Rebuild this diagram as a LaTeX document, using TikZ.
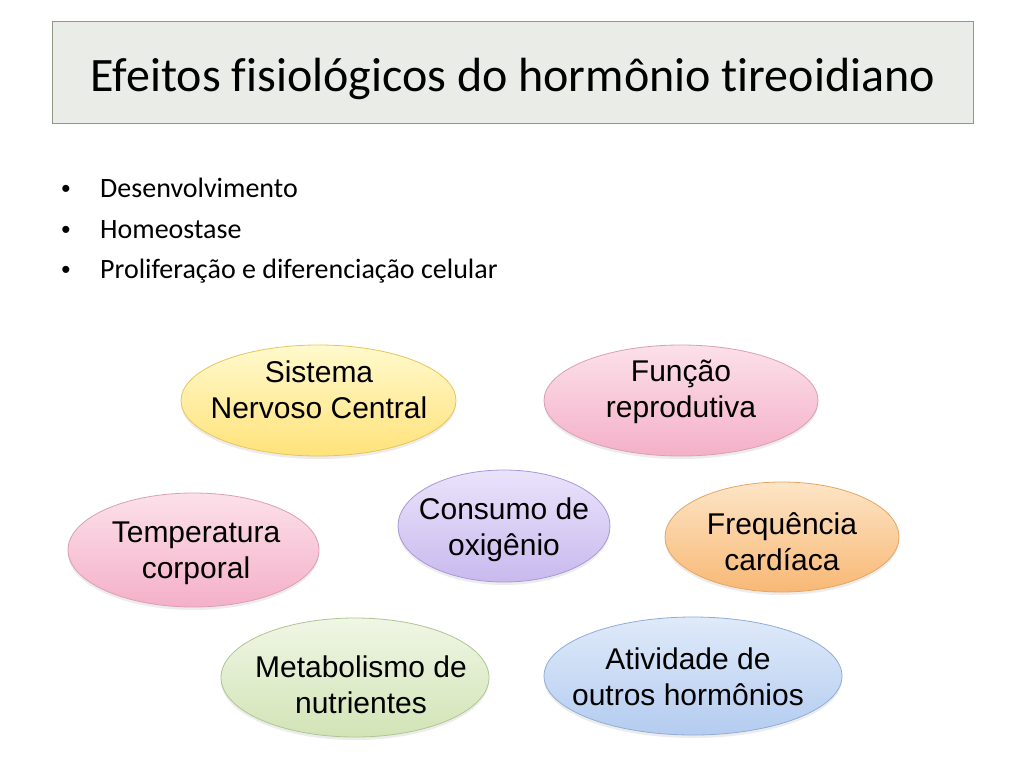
\documentclass[tikz,border=0pt]{standalone}
\usepackage{fontspec}
\setmainfont[Ligatures=NoCommon]{Carlito}
\newfontfamily\arialf{Liberation Sans}
\usetikzlibrary{shapes.geometric,shadows}
\definecolor{titlefill}{HTML}{EAEDE7}
\definecolor{titledraw}{HTML}{8E9A86}
\definecolor{yT}{HTML}{FFF9CC}\definecolor{yM}{HTML}{FFF2A8}\definecolor{yB}{HTML}{FFE27A}\definecolor{yDr}{HTML}{E6C65C}
\definecolor{pT}{HTML}{FCE0EA}\definecolor{pM}{HTML}{F9CADB}\definecolor{pB}{HTML}{F4B0C8}\definecolor{pDr}{HTML}{D9A0B5}
\definecolor{lT}{HTML}{EAE3FB}\definecolor{lM}{HTML}{DDD1F6}\definecolor{lB}{HTML}{C9B9EE}\definecolor{lDr}{HTML}{A898D8}
\definecolor{oT}{HTML}{FDE5C6}\definecolor{oM}{HTML}{FBD4A4}\definecolor{oB}{HTML}{F8B875}\definecolor{oDr}{HTML}{E5A662}
\definecolor{gT}{HTML}{F0F6E5}\definecolor{gM}{HTML}{E4EFD1}\definecolor{gB}{HTML}{D2E4B6}\definecolor{gDr}{HTML}{AFC692}
\definecolor{bT}{HTML}{DFEAF9}\definecolor{bM}{HTML}{CDDEF5}\definecolor{bB}{HTML}{B4CCF0}\definecolor{bDr}{HTML}{90ADDA}
\tikzset{
  oval/.style n args={4}{ellipse, inner sep=0pt, draw=#4, line width=0.8pt,
     top color=#1, middle color=#2, bottom color=#3,
     drop shadow={opacity=0.15, shadow xshift=0pt, shadow yshift=-3pt}},
  ovaltext/.style={font=\arialf\fontsize{30}{36}\selectfont, align=center, text=black, inner sep=0pt},
  bullettext/.style={font=\fontsize{28}{34}\selectfont, anchor=base west, inner sep=0pt},
  bulletdot/.style={font=\arialf\fontsize{26}{30}\selectfont, anchor=base, inner sep=0pt}
}
\begin{document}
\begin{tikzpicture}[x=1pt,y=-1pt]
\useasboundingbox[fill=white] (0,0) rectangle (1024,768);
% title
\node[draw=titledraw, fill=titlefill, line width=1pt, minimum width=921pt, minimum height=101pt, inner sep=0pt] (title) at (512.5,72.5) {};
\node[font=\fontsize{48}{56}\selectfont, anchor=base, inner sep=0pt] (titletext) at (513,91) {Efeitos fisiológicos do hormônio tireoidiano};
% bullets
\node[bulletdot] (b1) at (66,197) {•};
\node[bullettext] (t1) at (100,197) {Desenvolvimento};
\node[bulletdot] (b2) at (66,238) {•};
\node[bullettext] (t2) at (100,238) {Homeostase};
\node[bulletdot] (b3) at (66,278) {•};
\node[bullettext] (t3) at (100,278) {Proliferação e diferenciação celular};
% ellipses
\node[oval={yT}{yM}{yB}{yDr}, minimum width=275pt, minimum height=111pt] (snc) at (318.5,400.5) {};
\node[ovaltext] (snct) at (319,390) {Sistema\\Nervoso Central};
\node[oval={pT}{pM}{pB}{pDr}, minimum width=274pt, minimum height=111pt] (fr) at (681,400.5) {};
\node[ovaltext] (frt) at (681,392) {Função\\reprodutiva};
\node[oval={pT}{pM}{pB}{pDr}, minimum width=251pt, minimum height=114pt] (tc) at (193.5,550) {};
\node[ovaltext] (tct) at (196,553) {Temperatura\\corporal};
\node[oval={lT}{lM}{lB}{lDr}, minimum width=212pt, minimum height=112pt] (co) at (504,526) {};
\node[ovaltext] (cot) at (504,530) {Consumo de\\oxigênio};
\node[oval={oT}{oM}{oB}{oDr}, minimum width=234pt, minimum height=110pt] (fc) at (782,537) {};
\node[ovaltext] (fct) at (782,542) {Frequência\\cardíaca};
\node[oval={gT}{gM}{gB}{gDr}, minimum width=268pt, minimum height=119pt] (mn) at (355,677.5) {};
\node[ovaltext] (mnt) at (361,685) {Metabolismo de\\nutrientes};
\node[oval={bT}{bM}{bB}{bDr}, minimum width=298pt, minimum height=118pt] (ah) at (693,676) {};
\node[ovaltext] (aht) at (688,677) {Atividade de\\outros hormônios};
\end{tikzpicture}
\end{document}
